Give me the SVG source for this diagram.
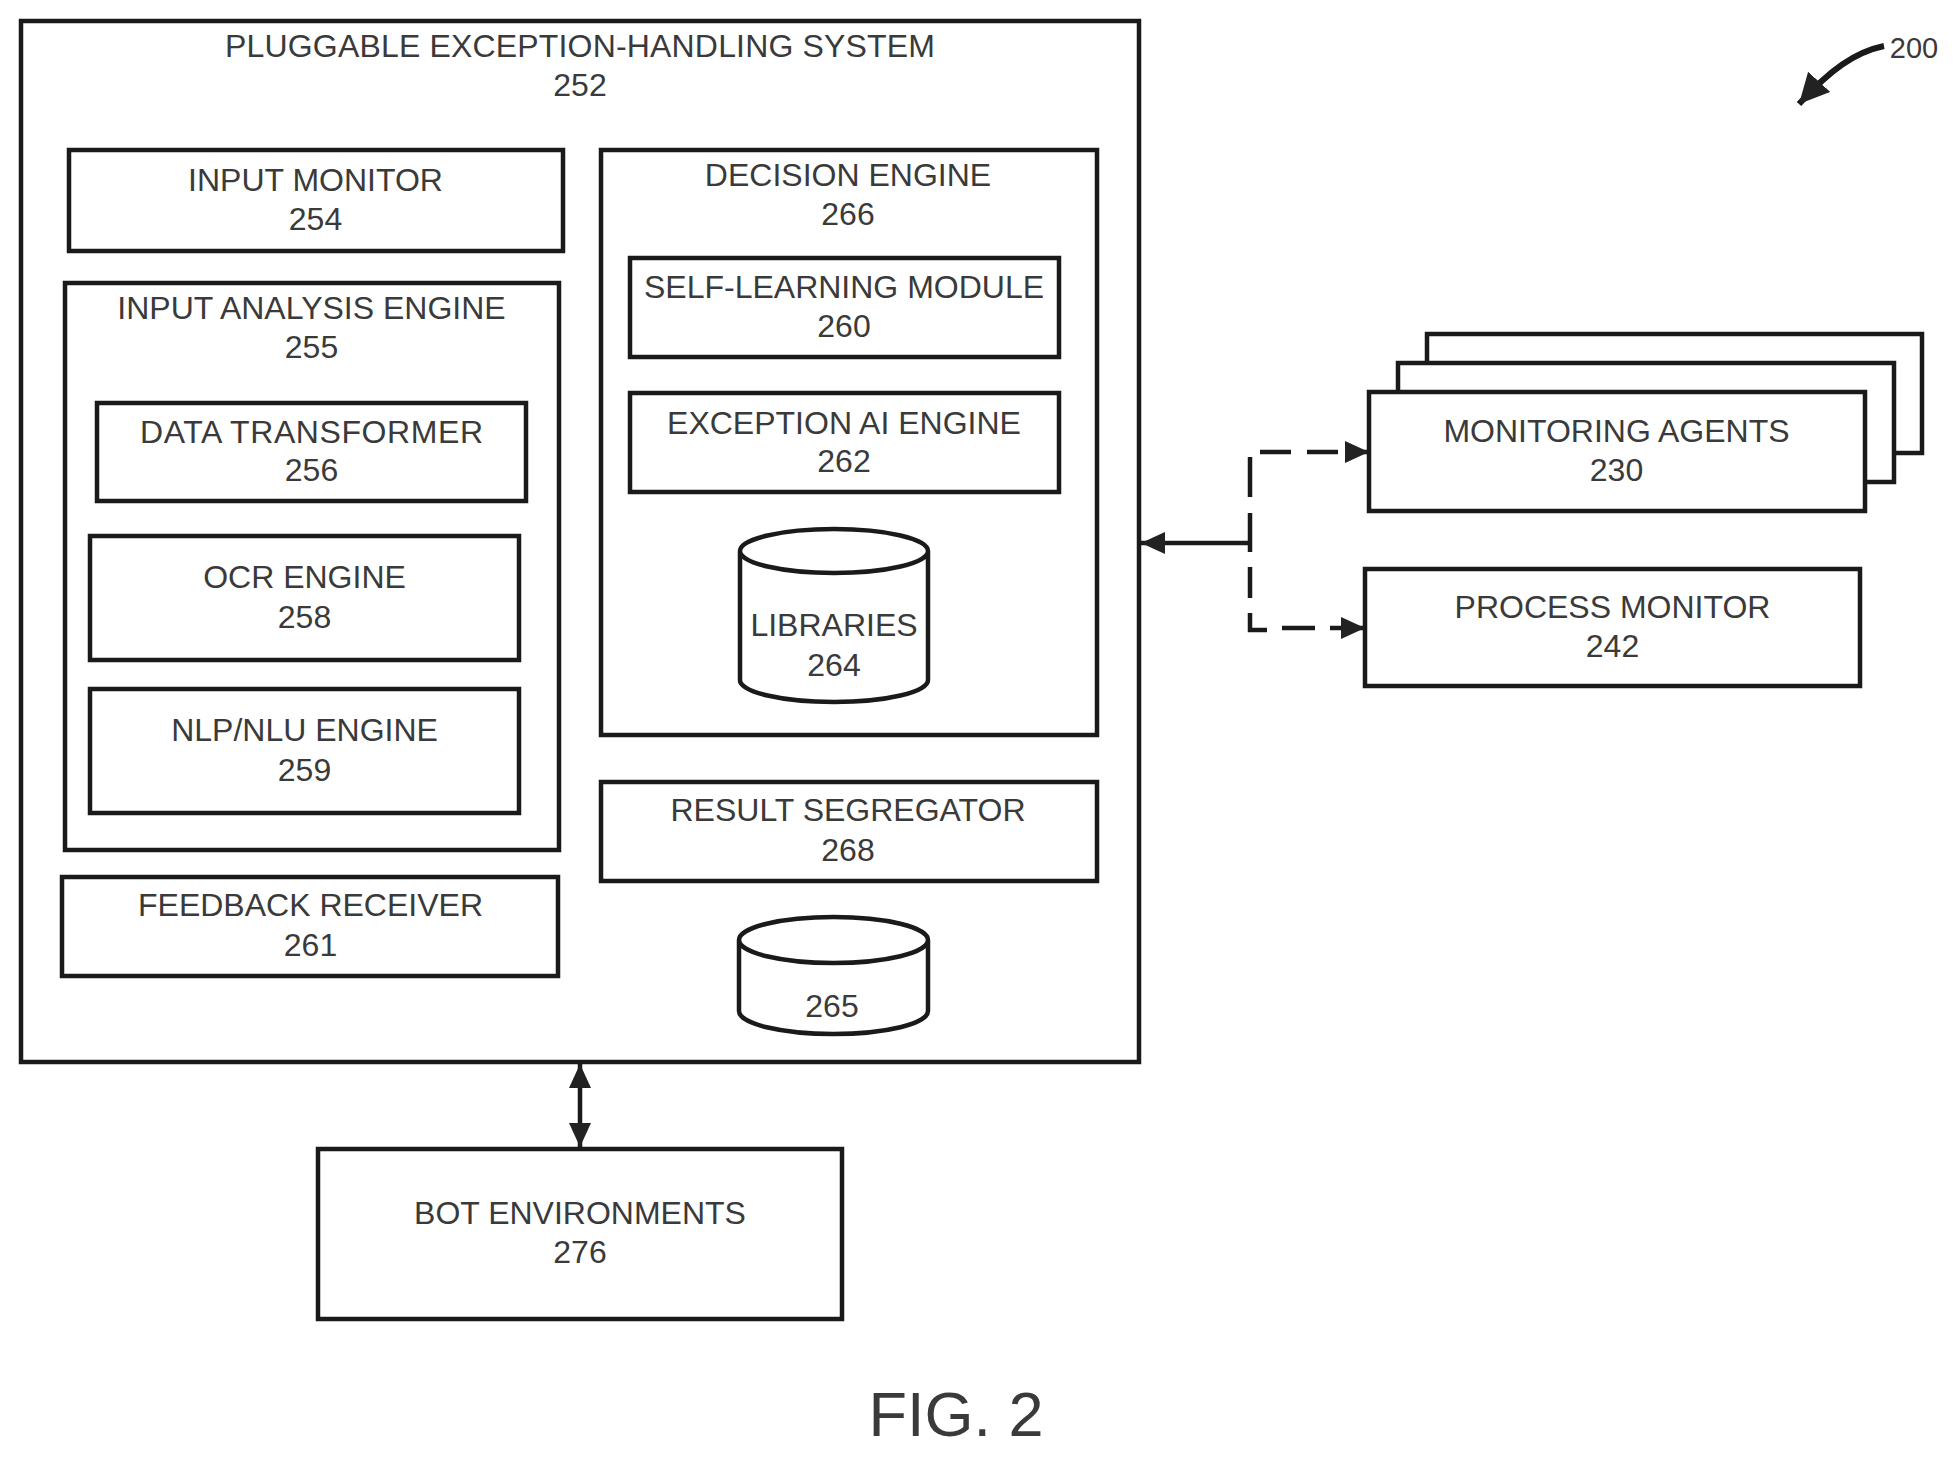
<svg xmlns="http://www.w3.org/2000/svg" width="1955" height="1459" viewBox="0 0 1955 1459">
<style>
.b{fill:#fff;stroke:#1a1a1a;stroke-width:4.500}
.n{fill:none;stroke:#1a1a1a;stroke-width:4.500}
.c{fill:none;stroke:#1a1a1a;stroke-width:4.500}
text{font-family:"Liberation Sans",Arial,sans-serif;font-size:32px;text-anchor:middle;fill:#3a3a3a}
</style>
<defs>
<marker id="ah" markerUnits="userSpaceOnUse" markerWidth="26" markerHeight="26" refX="24" refY="12" orient="auto-start-reverse" viewBox="0 0 26 26"><path d="M0 1L24 12L0 23Z" fill="#222"/></marker>
<marker id="ahb" markerUnits="userSpaceOnUse" markerWidth="34" markerHeight="34" refX="30" refY="15" orient="auto" viewBox="0 0 34 34"><path d="M0 0L30 15L0 30Z" fill="#222"/></marker>
</defs>
<rect width="1955" height="1459" fill="#fff"/>
<g id="system-252"><rect class="b" x="21" y="21" width="1118" height="1041"/><text x="580" y="57" textLength="710">PLUGGABLE EXCEPTION-HANDLING SYSTEM</text><text x="580" y="96">252</text></g>
<g id="input-monitor-254"><rect class="b" x="69" y="150" width="494" height="101"/><text x="315.500" y="191">INPUT MONITOR</text><text x="315.500" y="229.500">254</text></g>
<g id="decision-engine-266"><rect class="b" x="601" y="150" width="496" height="585"/><text x="848" y="186">DECISION ENGINE</text><text x="848" y="224.500">266</text></g>
<g id="input-analysis-255"><rect class="b" x="65" y="283" width="494" height="567"/><text x="311.500" y="319">INPUT ANALYSIS ENGINE</text><text x="311.500" y="358">255</text></g>
<g id="data-transformer-256"><rect class="b" x="97" y="403" width="429" height="98"/><text x="311.500" y="442.500" textLength="343">DATA TRANSFORMER</text><text x="311.500" y="481">256</text></g>
<g id="ocr-258"><rect class="b" x="90" y="536" width="429" height="124"/><text x="304.500" y="588">OCR ENGINE</text><text x="304.500" y="627.500">258</text></g>
<g id="nlp-259"><rect class="b" x="90" y="689" width="429" height="124"/><text x="304.500" y="741">NLP/NLU ENGINE</text><text x="304.500" y="781">259</text></g>
<g id="feedback-261"><rect class="b" x="62" y="877" width="496" height="99"/><text x="310.500" y="916">FEEDBACK RECEIVER</text><text x="310.500" y="956">261</text></g>
<g id="self-learning-260"><rect class="b" x="630" y="258" width="429" height="99"/><text x="844" y="298">SELF-LEARNING MODULE</text><text x="844" y="337">260</text></g>
<g id="exception-ai-262"><rect class="b" x="630" y="393" width="429" height="99"/><text x="844" y="433.500">EXCEPTION AI ENGINE</text><text x="844" y="472">262</text></g>
<g id="libraries-264"><path class="n" d="M740 551A94 22 0 0 1 928 551V680A94 22 0 0 1 740 680ZM740 551A94 22 0 0 0 928 551"/><text x="834" y="636">LIBRARIES</text><text x="834" y="675.500">264</text></g>
<g id="result-segregator-268"><rect class="b" x="601" y="782" width="496" height="99"/><text x="848" y="820.500">RESULT SEGREGATOR</text><text x="848" y="860.500">268</text></g>
<g id="storage-265"><path class="n" d="M739 940A94.500 23 0 0 1 928 940V1011A94.500 23 0 0 1 739 1011ZM739 940A94.500 23 0 0 0 928 940"/><text x="832" y="1017">265</text></g>
<g id="bot-environments-276"><rect class="b" x="318" y="1149" width="524" height="170"/><text x="580" y="1224">BOT ENVIRONMENTS</text><text x="580" y="1263">276</text></g>
<g id="monitoring-agents-230"><rect class="b" x="1427" y="334" width="495" height="119"/><rect class="b" x="1398" y="363" width="496" height="119"/><rect class="b" x="1369" y="392" width="496" height="119"/><text x="1616.500" y="441.500">MONITORING AGENTS</text><text x="1616.500" y="481">230</text></g>
<g id="process-monitor-242"><rect class="b" x="1365" y="569" width="495" height="117"/><text x="1612.500" y="617.500">PROCESS MONITOR</text><text x="1612.500" y="656.500">242</text></g>
<g id="connectors">
<path class="c" d="M1250 543H1141" marker-end="url(#ah)"/>
<path class="c" d="M1250 457V497M1250 513V552M1250 567V598M1250 613V630H1267M1282 628H1315M1260 452H1291M1307 452H1338"/>
<path class="c" d="M1345 452H1369" marker-end="url(#ah)"/>
<path class="c" d="M1330 628H1365" marker-end="url(#ah)"/>
<path class="c" d="M580 1064V1147" marker-start="url(#ah)" marker-end="url(#ah)"/>
<path class="c" style="stroke-width:6" d="M1884 46C1855 52 1830 70 1799 104" marker-end="url(#ahb)"/>
</g>
<g id="ref-200"><text x="1914" y="58" style="font-size:29px">200</text></g>
<g id="figure-label"><text x="956" y="1436" style="font-size:63px">FIG. 2</text></g>
</svg>
